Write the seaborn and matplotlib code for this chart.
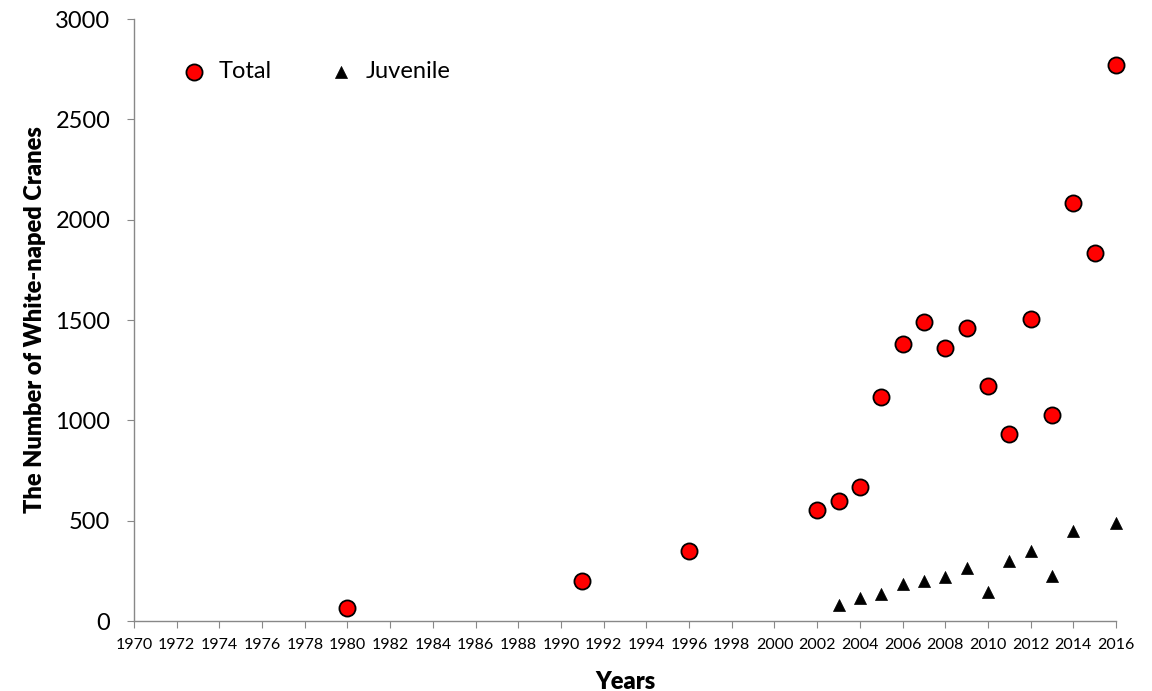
import numpy as np
import pandas as pd
import seaborn as sns
import matplotlib.pyplot as plt

# survey values
total_years = [1980, 1991, 1996, 2002, 2003, 2004, 2005, 2006, 2007, 2008,
               2009, 2010, 2011, 2012, 2013, 2014, 2015, 2016]
total_counts = [67, 197, 350, 555, 600, 670, 1115, 1380, 1490, 1362,
                1462, 1173, 932, 1505, 1025, 2085, 1833, 2772]
juvenile_years = [2003, 2004, 2005, 2006, 2007, 2008, 2009, 2010, 2011,
                  2012, 2013, 2014, 2016]
juvenile_counts = [78, 113, 133, 183, 197, 220, 263, 147, 300, 350, 225, 447, 490]

sns.set_style('white')
plt.rcParams['font.family'] = ['Lato', 'DejaVu Sans']
plt.rcParams['text.color'] = 'black'
plt.rcParams['axes.labelcolor'] = 'black'
plt.rcParams['xtick.color'] = 'black'
plt.rcParams['ytick.color'] = 'black'

total_df = pd.DataFrame({'year': total_years, 'count': total_counts})
juv_df = pd.DataFrame({'year': juvenile_years, 'count': juvenile_counts})

fig = plt.figure(figsize=(11.52, 6.91), dpi=100)
ax = fig.add_axes([0.1163, 0.1013, 0.8525, 0.8712])

sns.scatterplot(data=total_df, x='year', y='count', ax=ax, marker='o', s=135,
                color='#ff0000', edgecolor='black', linewidth=1.3, label='Total',
                zorder=3, clip_on=False)
sns.scatterplot(data=juv_df, x='year', y='count', ax=ax, marker='^', s=75,
                color='black', edgecolor='black', linewidth=0.5, label='Juvenile',
                zorder=3, clip_on=False)

ax.set_xlim(1970, 2016)
ax.set_ylim(0, 3000)
ax.set_xticks(np.arange(1970, 2017, 2))
ax.set_yticks(np.arange(0, 3001, 500))
ax.tick_params(axis='x', labelsize=11.5, length=5, color='#888888', labelcolor='black',
               direction='out', bottom=True, pad=7)
ax.tick_params(axis='y', labelsize=17, length=5, color='#888888', labelcolor='black',
               direction='out', left=True, pad=12)

for side in ['top', 'right']:
    ax.spines[side].set_visible(False)
for side in ['left', 'bottom']:
    ax.spines[side].set_color('#888888')
    ax.spines[side].set_linewidth(1.0)

ax.set_xlabel('Years', fontsize=17, fontweight='heavy', labelpad=14)
ax.set_ylabel('The Number of White-naped Cranes', fontsize=17, fontweight='heavy', labelpad=7)

ax.legend(loc='upper left', bbox_to_anchor=(0.015, 0.965), ncol=2, frameon=False,
          fontsize=17, handletextpad=0.05, columnspacing=1.95, markerscale=1.0)

fig.savefig('out.png', dpi=100)
